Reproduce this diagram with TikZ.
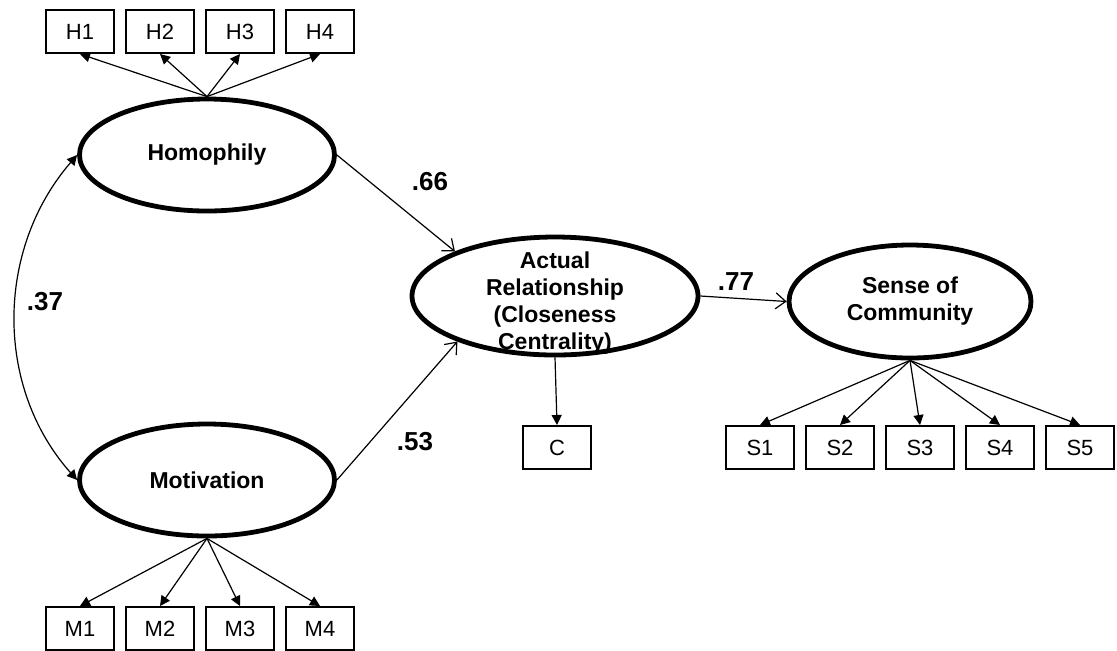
\documentclass[tikz,border=0pt]{standalone}
\usepackage{fontspec}
\setmainfont{Liberation Sans}
\usetikzlibrary{arrows.meta,shapes.geometric}

\begin{document}
\begin{tikzpicture}[x=0.5pt,y=-0.5pt,
  obs/.style={draw,line width=1pt,minimum width=34pt,minimum height=21.5pt,inner sep=0pt,font=\fontsize{11}{13}\selectfont},
  lat/.style={draw,ellipse,line width=2.4pt,inner sep=0pt,align=center,font=\bfseries\fontsize{11.5}{13.5}\selectfont},
  loadarrow/.style={line width=0.6pt,-{Triangle[length=5pt,width=5pt]}},
  regarrow/.style={line width=0.6pt,-{Straight Barb[length=5pt,width=8pt]}},
  coef/.style={font=\bfseries\fontsize{13}{15}\selectfont}]
  \useasboundingbox (0,0) rectangle (1117,650);
  % latent variables
  \node[lat,minimum width=127.5pt,minimum height=56pt] (hom) at (207,155) {Homophily};
  \node[lat,minimum width=127.5pt,minimum height=56pt] (mot) at (207,480) {Motivation};
  \node[lat,minimum width=143pt,minimum height=59pt] (act) at (555,296) {};
  \node[align=center,font=\bfseries\fontsize{11.5}{13.5}\selectfont] (acttext) at (555,303) {Actual\\Relationship\\(Closeness\\Centrality)};
  \node[lat,minimum width=121pt,minimum height=56.5pt] (soc) at (910,301.5) {Sense of\\Community};
  % indicators
  \node[obs] (h1) at (80,31.5) {H1};
  \node[obs] (h2) at (160,31.5) {H2};
  \node[obs] (h3) at (240,31.5) {H3};
  \node[obs] (h4) at (320,31.5) {H4};
  \node[obs] (m1) at (80,628.5) {M1};
  \node[obs] (m2) at (160,628.5) {M2};
  \node[obs] (m3) at (240,628.5) {M3};
  \node[obs] (m4) at (320,628.5) {M4};
  \node[obs] (c) at (557,447.5) {C};
  \node[obs] (s1) at (760,447.5) {S1};
  \node[obs] (s2) at (840,447.5) {S2};
  \node[obs] (s3) at (920,447.5) {S3};
  \node[obs] (s4) at (1000,447.5) {S4};
  \node[obs] (s5) at (1080,447.5) {S5};
  % loadings
  \draw[loadarrow] (hom.north) -- (h1.south);
  \draw[loadarrow] (hom.north) -- (h2.south);
  \draw[loadarrow] (hom.north) -- (h3.south);
  \draw[loadarrow] (hom.north) -- (h4.south);
  \draw[loadarrow] (mot.south) -- (m1.north);
  \draw[loadarrow] (mot.south) -- (m2.north);
  \draw[loadarrow] (mot.south) -- (m3.north);
  \draw[loadarrow] (mot.south) -- (m4.north);
  \draw[loadarrow] (act.south) -- (c.north);
  \draw[loadarrow] (soc.south) -- (s1.north);
  \draw[loadarrow] (soc.south) -- (s2.north);
  \draw[loadarrow] (soc.south) -- (s3.north);
  \draw[loadarrow] (soc.south) -- (s4.north);
  \draw[loadarrow] (soc.south) -- (s5.north);
  % paths
  \draw[regarrow] (hom.east) -- (act.156);
  \draw[regarrow] (mot.east) -- (act.205);
  \draw[regarrow] (act.east) -- (soc.west);
  \draw[line width=0.6pt,{Triangle[length=5pt,width=5pt]}-{Triangle[length=5pt,width=5pt]}] (hom.west) .. controls (-5,250) and (-5,388) .. (mot.west);
  \node[coef] (b66) at (430,182) {.66};
  \node[coef] (b53) at (415,442) {.53};
  \node[coef] (b77) at (736,282) {.77};
  \node[coef] (r37) at (45,302) {.37};
\end{tikzpicture}
\end{document}
